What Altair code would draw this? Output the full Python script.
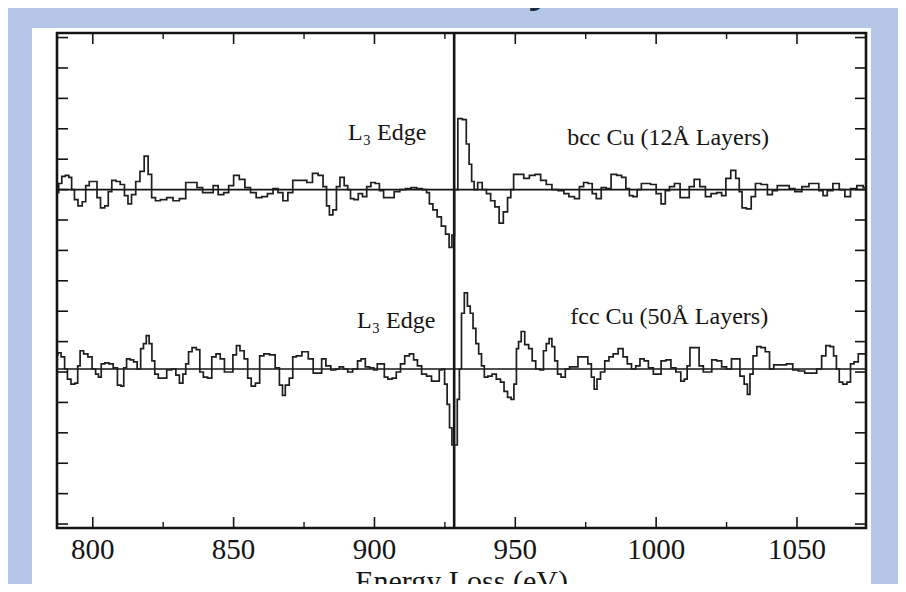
import altair as alt
import pandas as pd

# ---------------- data ----------------
bcc_ev = [787.3, 788.5, 789.5, 791, 792, 793, 794, 795.5, 797, 798, 799.5, 801, 802, 803.5, 805, 806,
          807.5, 809, 810.5, 812, 813, 814.5, 816, 817.5, 819, 820.3, 821.5, 823, 825, 827.5, 829.5,
          832, 834, 836, 838, 840, 842, 843.5, 845.5, 847.5, 849, 851, 853, 855, 857, 859, 861, 863,
          865, 866.5, 868.5, 870, 872, 875, 877, 879, 881, 882.5, 883.5, 884.5, 886, 887, 888.5, 890,
          891, 892, 893.5, 895, 896.5, 898, 899.5, 901, 902.5, 904, 906, 908, 910, 912, 914, 916, 918,
          919, 920, 921.5, 923, 924.5, 926, 927, 928, 928.8, 930.4, 932, 933.2, 934, 935, 935.8, 937.5,
          939, 940.5, 942, 943.5, 945, 946.5, 948, 948.8, 950, 952, 954, 956, 958, 960, 962, 964,
          966.5, 968, 970, 972, 973.5, 975, 976.6, 978, 979.5, 981.5, 983, 985, 987, 988.5, 990, 991,
          992.5, 994, 995.5, 997, 999, 1001, 1002.5, 1004, 1005.5, 1007.5, 1009.5, 1011, 1012.5,
          1014.5, 1016.5, 1018.5, 1020.5, 1022.5, 1024, 1025.5, 1027.5, 1029, 1030, 1031, 1033,
          1034.5, 1036, 1038.5, 1040.5, 1042, 1044, 1046.5, 1048, 1050.5, 1053, 1055.5, 1057, 1058.5,
          1060, 1061.5, 1064, 1066, 1068, 1070, 1072.5, 1074.5]
bcc_val = [-3, 6, 13, 14, 12, 0, -10, -16, -12, 4, 8, 8, -8, -18, -16, -2,
           9, 8, 5, -6, -14, -5, 8, 18, 33, 15, -8, -11, -10, -8, -11,
           -9, 7, 7, 2, -3, -3, 4, -5, -3, 4, 14, 10, 2, -3, -8, -7, -4,
           1, -3, -11, -3, 9, 9, 7, 16, 14, 3, -16, -25, -20, 3, 12, 4,
           0, -9, -10, -4, -7, 3, 7, 6, -1, -8, -8, -2, 0, 1, 2, 1, 0,
           -3, -14, -20, -27, -36, -44, -57, -45, 0, 70, 69, 45, 25, 8, 0, 7,
           0, -4, -11, -17, -33, -22, -8, 0, 15, 15, 11, 14, 15, 9, 5, 0,
           -1, -4, -7, -9, 3, 7, 6, -4, -9, 2, 1, 15, 14, 12, 1, -6,
           -7, 0, 6, 6, 5, -4, -14, -1, 3, 6, -8, -8, 3,
           10, 3, -7, -4, -3, -6, 11, 19, 11, -2, -18, -19,
           -7, 6, 5, -5, -1, 4, 4, 1, -2, 3, 6, 6, -1,
           -6, -1, 6, 0, -7, 1, 4, 2]

fcc_ev = [787.3, 788, 789.5, 790.5, 791.5, 793, 794.3, 795, 796, 797.5, 799, 800.5, 801.5, 802.5,
          803.5, 805, 806.5, 808, 809.5, 810.5, 811.5, 812.5, 814, 815, 816.5, 817.5, 818.5, 819.5,
          820.5, 821.5, 822.5, 824, 825.5, 827, 829, 830, 831.5, 832.5, 833.5, 834.5, 836, 837.5,
          838.5, 840, 841.5, 843, 844.5, 846, 847.5, 849, 850.5, 851.5, 853, 854.5, 855.5, 857,
          858.5, 860, 861.5, 864, 865.5, 867, 867.7, 869, 870.5, 871.5, 873, 875.5, 877.5, 879,
          880.5, 882, 883.5, 885.5, 887, 888, 890, 891, 893.5, 894.5, 896, 897.5, 899, 900.5, 901.5,
          903, 904, 905.5, 907, 908.5, 910, 911.5, 913.3, 914.5, 916, 917.5, 919.5, 921, 922.5,
          923.5, 924.5, 925.3, 926.3, 927, 928, 929, 929.8, 930.5, 931.3, 932.5, 933.5, 934.5,
          935.5, 936.5, 937.5, 938.5, 939.5, 941, 942.5, 944, 945.5, 946.5, 948, 949, 950, 950.8,
          951.5, 952.7, 954, 955.5, 956.5, 958, 959.5, 960.5, 961.5, 962.5, 963.5, 964.5, 965.5,
          967, 968.5, 970, 971.5, 973, 975, 976.5, 977.5, 978.5, 979.5, 981, 982.5, 984, 985.5,
          987.5, 989, 990.5, 992, 993.5, 995, 996.5, 998, 1000, 1001, 1002.5, 1004.5, 1006, 1008,
          1009.5, 1010.5, 1011.5, 1012.5, 1014.5, 1016, 1017.5, 1019, 1020.5, 1022.5, 1024, 1026,
          1027.5, 1029, 1030.5, 1032, 1032.8, 1033.8, 1035, 1036.5, 1038, 1039.5, 1041, 1042.5,
          1045, 1047.5, 1049.5, 1051.5, 1054, 1056, 1058, 1059.5, 1061, 1062.5, 1063.5, 1064.5,
          1065.5, 1067, 1068.5, 1069.5, 1071, 1072.5, 1074.5]
fcc_val = [14, 16, 12, 0, -10, -15, -14, 3, 18, 15, 12, 0, -5, -8,
           5, 6, 5, 1, -16, -17, 1, 10, 9, 7, 0, 20, 25, 33,
           25, 8, -5, -9, -9, -1, 0, -6, -14, -5, 5, 17, 21, 19,
           -3, -8, -9, 12, 15, 10, -3, -3, 14, 23, 18, 10, -9, -17,
           -14, 13, 15, 14, 1, -16, -26, -16, -9, 12, 13, 17, 10, -4,
           -4, 10, 3, -1, 0, 2, 0, -3, 0, 8, 10, 2, 1, -1, 5,
           5, -8, -10, -9, -3, 5, 13, 15, 9, 3, -5, -7, -12, -12,
           -1, 0, -15, -35, -58, -75, -75, -30, 0, 55, 75, 62, 55,
           40, 25, 15, 3, -8, -7, -5, -10, -13, -22, -28, -30, -15, 20,
           27, 37, 24, 20, 8, 0, -1, 18, 25, 30, 22, 8, -5,
           -8, 0, 2, 2, 12, 12, 5, -8, -20, -10, -3, 8, 12, 15,
           20, 12, 5, 0, 3, 10, 8, 1, -5, -5, 8, 9, 1, -3,
           -12, -10, 3, 21, 21, 3, -3, -3, 9, 8, 2, 0,
           10, 10, -7, -15, -25, -5, 13, 22, 21, 17, 0, 4,
           4, 5, -1, -2, -4, -4, 0, 13, 23, 22, 13, 0,
           -13, -15, -13, 5, 7, 15, 15]

series_names = ["bcc", "fcc"]
series_baseline = [330, 153]          # zero level of each spectrum (offset stack)
edge_ev = [928.3]                     # L3 edge marker
x_major = [800, 850, 900, 950, 1000, 1050]
x_minor = [825, 875, 925, 975, 1025]
x_labels = ["800", "850", "900", "950", "1000", "1050"]
x_title = "Energy Loss (eV)"
y_ticks = list(range(0, 481, 30))

ann_text = ["L\u2083 Edge", "bcc Cu (12\u00c5 Layers)", "L\u2083 Edge", "fcc Cu (50\u00c5 Layers)"]
ann_ev = [890.6, 968.4, 893.8, 969.5]
ann_y = [379, 374, 193, 197]

# ---------------- build tables ----------------
rows = []
for name, base, evs, vals in [("bcc", series_baseline[0], bcc_ev, bcc_val),
                              ("fcc", series_baseline[1], fcc_ev, fcc_val)]:
    for e, v in zip(evs, vals):
        rows.append({"series": name, "ev": e, "y": base + v})
curve_df = pd.DataFrame(rows)
base_df = pd.DataFrame({"series": series_names, "y": series_baseline})
edge_df = pd.DataFrame({"ev": edge_ev})
xmaj_df = pd.DataFrame({"ev": x_major, "label": x_labels})
xmin_df = pd.DataFrame({"ev": x_minor})
ytk_df = pd.DataFrame({"y": y_ticks})
ann_df = pd.DataFrame({"text": ann_text, "ev": ann_ev, "y": ann_y})
one = pd.DataFrame({"a": [0]})

W, H = 809, 495
SERIF = "Liberation Serif"
INK = "#141414"

xs = alt.Scale(domain=[787.3, 1074.5], nice=False, zero=False)
ys = alt.Scale(domain=[-3.9, 484.5], nice=False, zero=False)

def X(field="ev"):
    return alt.X(f"{field}:Q", scale=xs, axis=None)

def Y(field="y"):
    return alt.Y(f"{field}:Q", scale=ys, axis=None)

panel = alt.Chart(one).mark_rect(color="white").encode(
    x=alt.value(-25), x2=alt.value(W + 5), y=alt.value(-5), y2=alt.value(H + 80))

title_frag = alt.Chart(one).mark_text(
    text="y", font="Open Sans", fontWeight="bold", fontSize=40, color="#1b2a3f",
    align="center", baseline="alphabetic").encode(x=alt.value(483), y=alt.value(-31))

zero_lines = alt.Chart(base_df).mark_rule(color=INK, strokeWidth=1.6).encode(
    y=Y(), x=alt.value(0), x2=alt.value(W))

edge_line = alt.Chart(edge_df).mark_rule(color=INK, strokeWidth=2.6).encode(
    x=X(), y=alt.value(0), y2=alt.value(H))

curves = alt.Chart(curve_df).mark_line(
    interpolate="step", color="#1e1e1e", strokeWidth=1.7).encode(
    x=X(), y=Y(), detail="series:N")

labels = alt.Chart(ann_df).mark_text(
    font=SERIF, fontSize=24, color=INK, align="left", baseline="alphabetic").encode(
    x=X(), y=Y(), text="text:N")

tick_labels = alt.Chart(xmaj_df).mark_text(
    font=SERIF, fontSize=29, color=INK, align="center", baseline="alphabetic").encode(
    x=X(), y=alt.value(H + 31), text="label:N")

axis_title = alt.Chart(one).mark_text(
    text=x_title, font=SERIF, fontSize=30, color=INK, align="center",
    baseline="alphabetic").encode(x=alt.value(W / 2), y=alt.value(H + 63))

bot_major = alt.Chart(xmaj_df).mark_rule(color=INK, strokeWidth=1.6).encode(
    x=X(), y=alt.value(H), y2=alt.value(H - 11))
top_major = alt.Chart(xmaj_df).mark_rule(color=INK, strokeWidth=1.6).encode(
    x=X(), y=alt.value(0), y2=alt.value(11))
bot_minor = alt.Chart(xmin_df).mark_rule(color=INK, strokeWidth=1.4).encode(
    x=X(), y=alt.value(H), y2=alt.value(H - 6))
top_minor = alt.Chart(xmin_df).mark_rule(color=INK, strokeWidth=1.4).encode(
    x=X(), y=alt.value(0), y2=alt.value(6))
left_ticks = alt.Chart(ytk_df).mark_rule(color=INK, strokeWidth=1.6).encode(
    y=Y(), x=alt.value(0), x2=alt.value(11))
right_ticks = alt.Chart(ytk_df).mark_rule(color=INK, strokeWidth=1.6).encode(
    y=Y(), x=alt.value(W - 11), x2=alt.value(W))

frame = alt.Chart(one).mark_rect(
    fillOpacity=0, stroke=INK, strokeWidth=2.6).encode(
    x=alt.value(0), x2=alt.value(W), y=alt.value(0), y2=alt.value(H))

chart = alt.layer(
    panel, title_frag, zero_lines, edge_line, curves, labels, tick_labels, axis_title,
    bot_major, top_major, bot_minor, top_minor, left_ticks, right_ticks, frame
).properties(
    width=W, height=H,
    autosize=alt.AutoSizeParams(type="none"),
    padding={"left": 49, "top": 25, "right": 32, "bottom": 56},
    background="#b4c7e7",
).configure_view(stroke=None)

chart.save("out.html", embed_options={"renderer": "svg", "actions": False})
